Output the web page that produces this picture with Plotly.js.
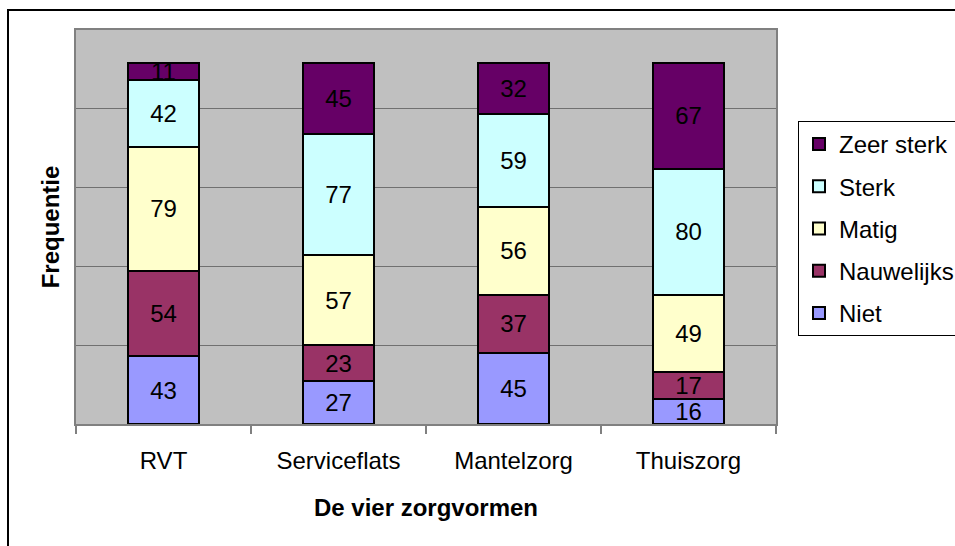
<!DOCTYPE html>
<html>
<head>
<meta charset="utf-8">
<script src="https://cdn.plot.ly/plotly-3.0.1.min.js"></script>
<style>
html,body{margin:0;padding:0;background:#fff;}
#chart{width:955px;height:546px;}
</style>
</head>
<body>
<div id="chart"></div>
<script>
const categories = ["RVT", "Serviceflats", "Mantelzorg", "Thuiszorg"];
const niet = [43, 27, 45, 16];
const nauwelijks = [54, 23, 37, 17];
const matig = [79, 57, 56, 49];
const sterk = [42, 77, 59, 80];
const zeerSterk = [11, 45, 32, 67];
const seriesNames = ["Niet", "Nauwelijks", "Matig", "Sterk", "Zeer sterk"];
const seriesValues = [niet, nauwelijks, matig, sterk, zeerSterk];
const seriesColors = ["#9999FF", "#993366", "#FFFFCC", "#CCFFFF", "#660066"];

const FONT = "Liberation Sans, Arial, sans-serif";

const traces = seriesNames.map((name, i) => ({
  type: "bar",
  name: name,
  x: categories,
  y: seriesValues[i],
  text: seriesValues[i].map(String),
  textposition: "inside",
  insidetextanchor: "middle",
  textangle: 0,
  constraintext: "none",
  textfont: {family: FONT, size: 24, color: "#000"},
  marker: {color: seriesColors[i], line: {color: "#000", width: 2}},
  legendgroup: name,
  legendrank: seriesNames.length - i,
  hoverinfo: "skip"
}));

// plot area geometry: left 76, right 776, top 30, bottom 424
const L = 76, R = 776, T = 30, B = 424;
const pw = R - L, ph = B - T;
const px = v => (v - L) / pw;
const py = v => (B - v) / ph;

const layout = {
  width: 955,
  height: 546,
  margin: {l: L, r: 955 - R, t: T, b: 546 - B, autoexpand: false},
  paper_bgcolor: "#ffffff",
  plot_bgcolor: "#C0C0C0",
  barmode: "stack",
  bargap: 0.59,
  font: {family: FONT, size: 24, color: "#000"},
  showlegend: true,
  legend: {
    x: px(798), y: py(121), xanchor: "left", yanchor: "top",
    bgcolor: "#ffffff", bordercolor: "#000", borderwidth: 1,
    font: {family: FONT, size: 24, color: "#000"},
    traceorder: "grouped",
    tracegroupgap: 8
  },
  xaxis: {
    type: "category",
    showgrid: false,
    showline: true, linecolor: "#808080", linewidth: 2, mirror: true,
    ticks: "outside", tickson: "boundaries", ticklen: 8, tickcolor: "#808080", tickwidth: 2,
    ticklabelstandoff: 14,
    tickfont: {family: FONT, size: 24, color: "#000"},
    title: {text: "De vier zorgvormen", font: {family: FONT, size: 24, color: "#000", weight: "bold"}, standoff: 26},
    fixedrange: true
  },
  yaxis: {
    range: [0, 250],
    dtick: 50,
    showticklabels: false,
    ticks: "",
    showgrid: true, gridcolor: "#707070", gridwidth: 1,
    zeroline: false,
    showline: true, linecolor: "#808080", linewidth: 2, mirror: true,
    title: {text: "Frequentie", font: {family: FONT, size: 24, color: "#000", weight: "bold"}, standoff: 8},
    fixedrange: true
  },
  shapes: [{
    type: "rect", xref: "paper", yref: "paper",
    x0: px(8), x1: px(990), y0: py(600), y1: py(10),
    line: {color: "#000", width: 2}, fillcolor: "rgba(0,0,0,0)", layer: "below"
  }]
};

Plotly.newPlot("chart", traces, layout, {displayModeBar: false, staticPlot: true});
</script>
</body>
</html>
